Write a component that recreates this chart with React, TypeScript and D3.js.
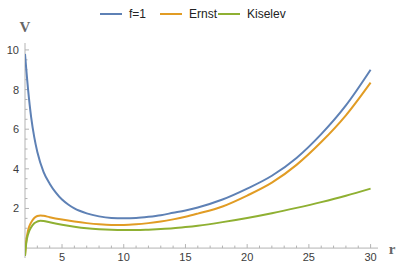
import React from 'react';
import * as d3 from 'd3';

// sample radii and potential values
const rBlue = [2, 2.25, 2.5, 2.75, 3, 3.5, 4, 4.5, 5, 5.5, 6, 7, 8, 9, 10, 11, 12, 13, 14, 15, 16, 18, 20, 22, 24, 26, 28, 30];
const vBlue = [9.8, 8.0, 6.6, 5.6, 4.85, 3.85, 3.25, 2.8, 2.45, 2.2, 2.0, 1.75, 1.6, 1.52, 1.5, 1.52, 1.58, 1.66, 1.78, 1.9, 2.05, 2.45, 3.0, 3.65, 4.55, 5.75, 7.2, 9.0];

const rOther = [2, 2.1, 2.25, 2.5, 2.75, 3, 3.25, 3.5, 4, 5, 6, 7, 8, 9, 10, 11, 12, 13, 14, 15, 16, 18, 20, 22, 24, 26, 28, 30];
const vErnst = [-0.4, 0.35, 0.9, 1.3, 1.52, 1.62, 1.65, 1.63, 1.56, 1.44, 1.34, 1.26, 1.2, 1.17, 1.17, 1.2, 1.26, 1.34, 1.45, 1.58, 1.74, 2.1, 2.65, 3.3, 4.2, 5.35, 6.7, 8.35];
const vKiselev = [-0.4, 0.25, 0.7, 1.05, 1.25, 1.34, 1.38, 1.37, 1.3, 1.18, 1.08, 1.0, 0.95, 0.92, 0.91, 0.91, 0.93, 0.96, 1.0, 1.06, 1.13, 1.31, 1.52, 1.76, 2.03, 2.32, 2.64, 3.0];

const seriesNames = ['f=1', 'Ernst', 'Kiselev'];
const colors = ['#5e81b5', '#e19c24', '#8fb032'];
const xTicks = [5, 10, 15, 20, 25, 30];
const yTicks = [2, 4, 6, 8, 10];

export default function App() {
  const width = 405;
  const height = 268;

  const x = d3.scaleLinear().domain([2, 30.6]).range([25, 378]);
  const y = d3.scaleLinear().domain([-0.5, 10.35]).range([258, 43]);

  const series = [
    rBlue.map((r, i) => [r, vBlue[i]]),
    rOther.map((r, i) => [r, vErnst[i]]),
    rOther.map((r, i) => [r, vKiselev[i]]),
  ];

  const line = d3
    .line<number[]>()
    .x((d) => x(d[0]))
    .y((d) => y(d[1]))
    .curve(d3.curveMonotoneX);

  const xMinor = d3.range(3, 31, 1).filter((v) => v % 5 !== 0);
  const yMinor = d3.range(0.5, 10.1, 0.5).filter((v) => v % 2 !== 0);

  const axisColor = '#b3b3b3';
  const labelColor = '#3c3c3c';
  const y0 = y(0);
  const x0 = x(2);

  const legendX = [100, 160, 218];

  return (
    <svg width={width} height={height} style={{ position: 'absolute', left: 0, top: 0 }}>
      <rect width={width} height={height} fill="#fff" />

      {/* legend */}
      {seriesNames.map((name, i) => (
        <g key={name}>
          <line x1={legendX[i]} x2={legendX[i] + 22} y1={14} y2={14} stroke={colors[i]} strokeWidth={2} />
          <text x={legendX[i] + 29} y={18} fontFamily="Liberation Sans, Arial, sans-serif" fontSize={12} fill="#222">
            {name}
          </text>
        </g>
      ))}

      {/* axes */}
      <line x1={x0} x2={x(30.6)} y1={y0} y2={y0} stroke={axisColor} strokeWidth={1} />
      <line x1={x0} x2={x0} y1={y(-0.5)} y2={y(10.35)} stroke={axisColor} strokeWidth={1} />

      {xTicks.map((t) => (
        <g key={'x' + t}>
          <line x1={x(t)} x2={x(t)} y1={y0} y2={y0 - 4} stroke={axisColor} />
          <text x={x(t)} y={y0 + 13} textAnchor="middle" fontFamily="Liberation Sans, Arial, sans-serif" fontSize={11} fill={labelColor}>
            {t}
          </text>
        </g>
      ))}
      {xMinor.map((t) => (
        <line key={'xm' + t} x1={x(t)} x2={x(t)} y1={y0} y2={y0 - 2.5} stroke={axisColor} />
      ))}

      {yTicks.map((t) => (
        <g key={'y' + t}>
          <line x1={x0} x2={x0 + 4} y1={y(t)} y2={y(t)} stroke={axisColor} />
          <text x={x0 - 6} y={y(t) + 4} textAnchor="end" fontFamily="Liberation Sans, Arial, sans-serif" fontSize={11} fill={labelColor}>
            {t}
          </text>
        </g>
      ))}
      {yMinor.map((t) => (
        <line key={'ym' + t} x1={x0} x2={x0 + 2.5} y1={y(t)} y2={y(t)} stroke={axisColor} />
      ))}

      {/* axis labels */}
      <text x={x0} y={32} textAnchor="middle" fontFamily="Liberation Serif, serif" fontWeight="bold" fontSize={15} fill="#666">
        V
      </text>
      <text x={392} y={254} textAnchor="middle" fontFamily="Liberation Serif, serif" fontWeight="bold" fontSize={15} fill="#666">
        r
      </text>

      {/* curves */}
      <defs>
        <clipPath id="plotClip">
          <rect x={x0} y={40} width={360} height={220} />
        </clipPath>
      </defs>
      <g clipPath="url(#plotClip)">
        {series.map((s, i) => (
          <path key={i} d={line(s) || ''} fill="none" stroke={colors[i]} strokeWidth={2} />
        ))}
      </g>
    </svg>
  );
}
